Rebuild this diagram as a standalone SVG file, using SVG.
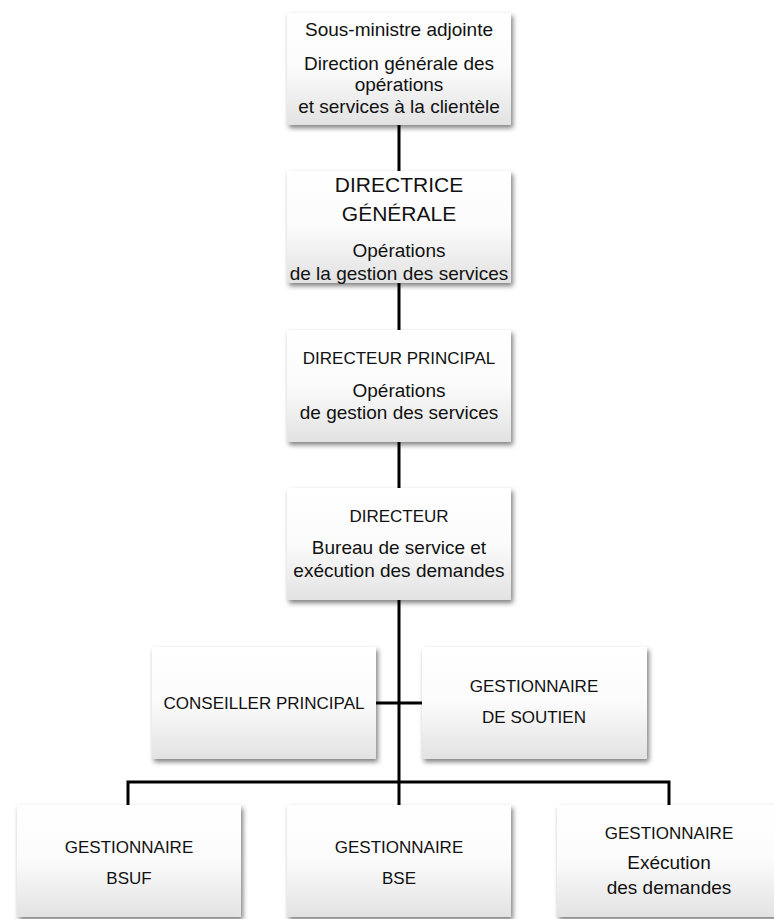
<svg xmlns="http://www.w3.org/2000/svg" width="774" height="919" viewBox="0 0 774 919">
<style>
text{font-family:"Liberation Sans",Arial,sans-serif;fill:#111;text-anchor:middle}
.t{font-size:19px}
.c{font-size:17px}
.h{font-size:21px}
.box{fill:url(#g);filter:url(#sh)}
.ln{stroke:#000;stroke-width:3;fill:none}
</style>
<defs>
<linearGradient id="g" x1="0" y1="0" x2="0" y2="1">
<stop offset="0" stop-color="#ffffff"/>
<stop offset="0.5" stop-color="#fbfbfb"/>
<stop offset="1" stop-color="#e2e2e2"/>
</linearGradient>
<filter id="sh" x="-10%" y="-10%" width="125%" height="130%">
<feDropShadow dx="2" dy="3" stdDeviation="2.5" flood-color="#000" flood-opacity="0.5"/>
</filter>
</defs>
<g id="connectors">
<path class="ln" d="M399 124V782"/>
<path class="ln" d="M376 703H422"/>
<path class="ln" d="M128 805V782H669V805M399 782V805"/>
</g>
<g id="n1">
<rect class="box" x="287" y="13" width="224" height="112"/>
<text class="t" x="399" y="36">Sous-ministre adjointe</text>
<text class="t" x="399" y="70">Direction générale des</text>
<text class="t" x="399" y="91">opérations</text>
<text class="t" x="399" y="113">et services à la clientèle</text>
</g>
<g id="n2">
<rect class="box" x="287" y="171" width="224" height="112"/>
<text class="h" x="399" y="192">DIRECTRICE</text>
<text class="h" x="399" y="221">GÉNÉRALE</text>
<text class="t" x="399" y="257">Opérations</text>
<text class="t" x="399" y="280">de la gestion des services</text>
</g>
<g id="n3">
<rect class="box" x="287" y="330" width="224" height="112"/>
<text class="c" x="399" y="364">DIRECTEUR PRINCIPAL</text>
<text class="t" x="399" y="397">Opérations</text>
<text class="t" x="399" y="419">de gestion des services</text>
</g>
<g id="n4">
<rect class="box" x="287" y="488" width="224" height="112"/>
<text class="c" x="399" y="522">DIRECTEUR</text>
<text class="t" x="399" y="554">Bureau de service et</text>
<text class="t" x="399" y="577">exécution des demandes</text>
</g>
<g id="n5">
<rect class="box" x="152" y="647" width="224" height="112"/>
<text class="c" x="264" y="709">CONSEILLER PRINCIPAL</text>
</g>
<g id="n6">
<rect class="box" x="422" y="647" width="225" height="112"/>
<text class="c" x="534" y="692">GESTIONNAIRE</text>
<text class="c" x="534" y="723">DE SOUTIEN</text>
</g>
<g id="n7">
<rect class="box" x="17" y="805" width="224" height="112"/>
<text class="c" x="129" y="853">GESTIONNAIRE</text>
<text class="c" x="129" y="884">BSUF</text>
</g>
<g id="n8">
<rect class="box" x="287" y="805" width="224" height="112"/>
<text class="c" x="399" y="853">GESTIONNAIRE</text>
<text class="c" x="399" y="884">BSE</text>
</g>
<g id="n9">
<rect class="box" x="557" y="805" width="224" height="112"/>
<text class="c" x="669" y="839">GESTIONNAIRE</text>
<text class="t" x="669" y="869">Exécution</text>
<text class="t" x="669" y="894">des demandes</text>
</g>
</svg>
